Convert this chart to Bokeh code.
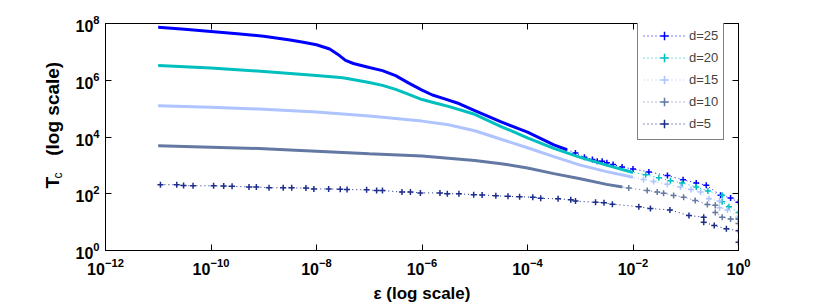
from bokeh.plotting import figure
from bokeh.models import (LogAxis, FixedTicker, Title, Legend, LegendItem,
                          CustomJSTickFormatter)
from bokeh.embed import file_html
from bokeh.resources import INLINE

# ---------------- data ----------------
x_ticks = [1e-12, 1e-10, 1e-8, 1e-6, 1e-4, 1e-2, 1]
y_ticks = [1, 1e2, 1e4, 1e6, 1e8]
series_labels = ["d=25", "d=20", "d=15", "d=10", "d=5"]

# d = 25 : dense part, then sparse tail
eps_d25_curve = [1e-11, 3.16e-11, 1e-10, 3.16e-10, 1e-9, 3.16e-9, 5.62e-9, 1e-8,
                 1.78e-8, 2.51e-8, 3.55e-8, 5.01e-8, 1e-7, 1.78e-7, 3.16e-7, 5.62e-7,
                 1e-6, 1.58e-6, 2.51e-6, 5.01e-6, 1e-5, 3.16e-5, 1e-4, 3.16e-4, 5.62e-4]
tc_d25_curve = [7.41e7, 6.31e7, 5.25e7, 4.37e7, 3.55e7, 2.63e7, 2.19e7, 1.78e7,
                1.26e7, 8.32e6, 5.01e6, 3.89e6, 2.82e6, 2.19e6, 1.45e6, 7.94e5,
                4.47e5, 3.02e5, 2.29e5, 1.51e5, 8.51e4, 3.39e4, 1.48e4, 5.25e3, 3.55e3]
eps_d25_tail = [8.1e-4, 1.2e-3, 1.7e-3, 2.1e-3, 2.6e-3, 3.2e-3, 4.2e-3, 6.2e-3, 1.0e-2,
                2.0e-2, 4.5e-2, 8.9e-2, 0.158, 0.245, 0.457, 0.708, 1.0]
tc_d25_tail = [2750, 1950, 1620, 1410, 1410, 1230, 1070, 871, 741,
               589, 437, 309, 240, 200, 89, 71, 50]

# d = 20
eps_d20_curve = [1e-11, 1e-10, 1e-9, 1e-8, 3.16e-8, 1e-7, 1.78e-7, 3.16e-7, 5.62e-7,
                 1e-6, 1.78e-6, 3.16e-6, 1e-5, 3.16e-5, 1e-4, 3.16e-4, 1e-3, 3.16e-3, 1e-2]
tc_d20_curve = [3.31e6, 2.69e6, 2.04e6, 1.48e6, 1.23e6, 8.32e5, 6.61e5, 4.79e5, 3.16e5,
                2.09e5, 1.58e5, 1.20e5, 6.31e4, 2.34e4, 9.33e3, 3.98e3, 1.91e3, 1.02e3, 562]
eps_d20_tail = [1.74e-2, 3.09e-2, 5.13e-2, 8.51e-2, 0.158, 0.263, 0.49, 0.49, 0.66, 1.0, 1.0]
tc_d20_tail = [468, 363, 288, 240, 174, 126, 89, 52, 35, 22, 14]

# d = 15
eps_d15_curve = [1e-11, 1e-10, 1e-9, 1e-8, 1e-7, 3.16e-7, 1e-6, 3.16e-6, 1e-5,
                 3.16e-5, 1e-4, 3.16e-4, 1e-3, 3.16e-3, 1e-2]
tc_d15_curve = [1.26e5, 1.12e5, 9.55e4, 7.59e4, 5.50e4, 4.47e4, 3.63e4, 2.69e4, 1.66e4,
                8.32e3, 4.17e3, 2.04e3, 1.02e3, 603, 380]
eps_d15_tail = [1.58e-2, 2.45e-2, 4.47e-2, 7.94e-2, 0.126, 0.191, 0.275, 0.437, 0.437,
                0.617, 1.0]
tc_d15_tail = [316, 269, 214, 174, 141, 115, 66, 56, 32, 27, 15]

# d = 10
eps_d10_curve = [1e-11, 1e-10, 1e-9, 1e-8, 1e-7, 1e-6, 1e-5, 3.16e-5, 1e-4, 3.16e-4,
                 1e-3, 3.16e-3, 6.31e-3]
tc_d10_curve = [4.90e3, 4.37e3, 3.89e3, 3.16e3, 2.57e3, 2.14e3, 1.48e3, 1.15e3, 813, 513,
                339, 214, 174]
eps_d10_tail = [8.3e-3, 1.86e-2, 2.88e-2, 3.8e-2, 5.89e-2, 9.12e-2, 0.151, 0.257, 0.363,
                0.363, 0.49, 0.708, 1.0, 1.0]
tc_d10_tail = [158, 129, 115, 105, 87, 76, 58, 42, 39, 22, 15, 13, 12.6, 8.9]

# d = 5 : sparse markers only
eps_d5_curve = []
tc_d5_curve = []
eps_d5_tail = [1.10e-11, 2.24e-11, 3.02e-11, 4.57e-11, 1.12e-10, 1.74e-10, 2.51e-10,
               5.25e-10, 7.24e-10, 1.26e-9, 2.34e-9, 3.39e-9, 6.31e-9, 8.91e-9, 1.70e-8,
               2.82e-8, 3.80e-8, 8.91e-8, 1.38e-7, 1.78e-7, 4.17e-7, 6.03e-7, 9.33e-7,
               2.19e-6, 3.02e-6, 5.01e-6, 9.55e-6, 1.38e-5, 2.51e-5, 4.27e-5, 7.08e-5,
               1.26e-4, 1.78e-4, 3.80e-4, 6.61e-4, 8.13e-4, 1.95e-3, 2.82e-3, 4.07e-3,
               1.29e-2, 2.14e-2, 5.01e-2, 0.115, 0.219, 0.219, 0.347, 0.589, 1.0, 1.0]
tc_d5_tail = [209, 209, 195, 191, 191, 186, 182, 174, 174, 162, 162, 162, 158, 148, 148,
              145, 141, 138, 129, 129, 115, 115, 107, 107, 100, 100, 93, 91, 85, 81, 78,
              76, 69, 66, 62, 55, 50, 48, 43, 35, 30, 27, 17, 15, 10, 7.6, 5.8, 5.0, 1.95]

series = [
    ("d=25", "#0000FF", eps_d25_curve, tc_d25_curve, eps_d25_tail, tc_d25_tail),
    ("d=20", "#00BFBF", eps_d20_curve, tc_d20_curve, eps_d20_tail, tc_d20_tail),
    ("d=15", "#AFC3FF", eps_d15_curve, tc_d15_curve, eps_d15_tail, tc_d15_tail),
    ("d=10", "#6378A3", eps_d10_curve, tc_d10_curve, eps_d10_tail, tc_d10_tail),
    ("d=5", "#1C2E8A", eps_d5_curve, tc_d5_curve, eps_d5_tail, tc_d5_tail),
]

FONT = "Liberation Sans"

p = figure(frame_width=633, frame_height=227,
           x_axis_type="log", y_axis_type="log",
           x_range=(1e-12, 1), y_range=(1, 1e8),
           output_backend="svg", toolbar_location=None,
           min_border_left=105, min_border_right=70, min_border_top=23,
           min_border_bottom=50)
p.background_fill_color = "white"
p.border_fill_color = "white"
p.outline_line_color = "black"
p.outline_line_width = 1
p.xgrid.visible = False
p.ygrid.visible = False

for ax, ticks in ((p.xaxis[0], x_ticks), (p.yaxis[0], y_ticks)):
    ax.ticker = FixedTicker(ticks=ticks)
    ax.major_tick_in = 6
    ax.major_tick_out = 0
    ax.minor_tick_line_color = None
    ax.axis_line_color = "black"
    ax.major_tick_line_color = "black"
    ax.major_label_text_font = FONT
    ax.major_label_text_font_size = "16px"
    ax.major_label_text_font_style = "bold"
    ax.major_label_text_color = "black"

p.xaxis[0].major_label_standoff = 7
p.yaxis[0].major_label_standoff = 6
p.xaxis[0].axis_label = "\u03b5 (log scale)"
p.xaxis[0].axis_label_text_font = FONT
p.xaxis[0].axis_label_text_font_size = "17px"
p.xaxis[0].axis_label_text_font_style = "bold"
p.xaxis[0].axis_label_text_color = "black"
p.xaxis[0].axis_label_standoff = 6

blank = CustomJSTickFormatter(code="return ''")
top = LogAxis(ticker=FixedTicker(ticks=x_ticks), formatter=blank,
              major_tick_in=6, major_tick_out=0, minor_tick_line_color=None,
              major_label_standoff=0)
right = LogAxis(ticker=FixedTicker(ticks=y_ticks), formatter=blank,
                major_tick_in=6, major_tick_out=0, minor_tick_line_color=None,
                major_label_standoff=0)
p.add_layout(top, "above")
p.add_layout(right, "right")

# y-axis label: "T" with subscript "c", then "(log scale)"
sub_c = Title(text="c", align="left", offset=72, standoff=16,
              text_font=FONT, text_font_size="12px", text_font_style="normal",
              text_color="black")
main_y = Title(text="T\u00a0\u00a0\u00a0\u00a0(log scale)", align="left",
               offset=62, standoff=-44, text_font=FONT, text_font_size="19px",
               text_font_style="bold", text_color="black")
p.add_layout(sub_c, "left")
p.add_layout(main_y, "left")

items = []
for name, color, cx, cy, tx, ty in series:
    if cx:
        p.line(cx, cy, line_color=color, line_width=3)
    dotted = p.line(cx + tx, cy + ty, line_color=color, line_width=1,
                    line_dash="1 3")
    marks = p.scatter(tx, ty, marker="cross", size=6, line_color=color,
                      line_width=1.5)
    items.append(LegendItem(label=name, renderers=[dotted, marks]))

legend = Legend(items=items, location=(532, 110))
legend.border_line_color = "black"
legend.border_line_width = 1
legend.background_fill_color = "white"
legend.background_fill_alpha = 1
legend.label_text_font = FONT
legend.label_text_font_size = "13px"
legend.glyph_width = 42
legend.glyph_height = 21
legend.label_height = 21
legend.label_standoff = 4
legend.spacing = 1
legend.padding = 5
legend.margin = 0
p.add_layout(legend, "center")

open("out.html", "w").write(file_html(p, INLINE))
